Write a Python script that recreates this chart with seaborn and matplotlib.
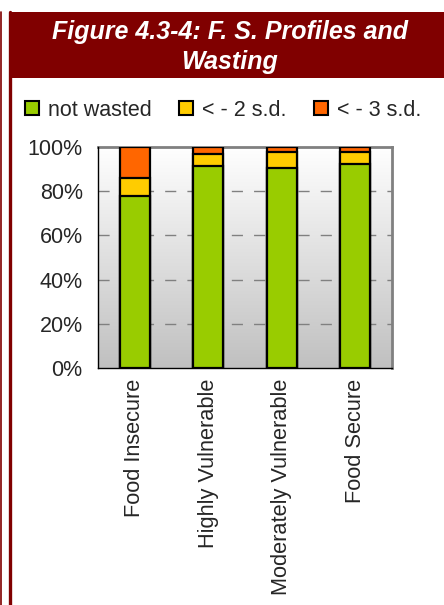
import numpy as np
import pandas as pd
import matplotlib
matplotlib.use("Agg")
import matplotlib.pyplot as plt
import seaborn as sns
from matplotlib.patches import Patch, Rectangle
from matplotlib.lines import Line2D
from matplotlib.colors import LinearSegmentedColormap

categories = ["Food Insecure", "Highly Vulnerable", "Moderately Vulnerable", "Food Secure"]
not_wasted = [77.8, 91.5, 90.5, 92.4]
below_2sd = [8.2, 5.3, 7.2, 5.2]
below_3sd = [14.0, 3.2, 2.3, 2.4]
series_names = ["not wasted", "< - 2 s.d.", "< - 3 s.d."]
series_colors = ["#99CC00", "#FFCC00", "#FF6600"]
ytick_values = [0, 20, 40, 60, 80, 100]
ytick_labels = ["0%", "20%", "40%", "60%", "80%", "100%"]
title_text = "Figure 4.3-4: F. S. Profiles and\nWasting"

sns.set_style("white")
plt.rcParams["font.family"] = ["Liberation Sans", "DejaVu Sans"]

W, H = 444, 605
fig = plt.figure(figsize=(W / 100, H / 100), dpi=100)
fig.patch.set_facecolor("white")

# frame decorations (figure-level)
red = "#800000"
fig.add_artist(Rectangle((9 / W, 1 - 78 / H), (W - 9) / W, 66 / H,
                         transform=fig.transFigure, facecolor=red, edgecolor="none"))
fig.add_artist(Line2D([0.8 / W, 0.8 / W], [0, 1 - 12 / H], transform=fig.transFigure,
                      color=red, lw=1.2))
fig.add_artist(Line2D([10 / W, 10 / W], [0, 1 - 12 / H], transform=fig.transFigure,
                      color=red, lw=2.4))
fig.text(230 / W, 1 - 47 / H, title_text, ha="center", va="center",
         color="white", fontsize=18, fontweight="bold", fontstyle="italic",
         linespacing=1.32)

ax = fig.add_axes([98 / W, 1 - 368 / H, (392 - 98) / W, (368 - 147) / H])

# gradient background
grad = np.linspace(0, 1, 256).reshape(-1, 1)
cmap = LinearSegmentedColormap.from_list("bg", ["#C0C0C0", "#FFFFFF"])
ax.imshow(grad, extent=[0, 1, 0, 1], transform=ax.transAxes, aspect="auto",
          cmap=cmap, origin="lower", zorder=0, interpolation="bicubic")

df = pd.DataFrame({
    "category": categories,
    "c1": np.array(not_wasted),
    "c2": np.array(not_wasted) + np.array(below_2sd),
    "c3": np.array(not_wasted) + np.array(below_2sd) + np.array(below_3sd),
})

for col, color in zip(["c3", "c2", "c1"], series_colors[::-1]):
    sns.barplot(data=df, x="category", y=col, color=color, width=0.41,
                edgecolor="black", linewidth=1.6, saturation=1, ax=ax, zorder=3)

ax.set_xlim(-0.5, len(categories) - 0.5)
ax.set_ylim(0, 100)
ax.set_yticks(ytick_values)
ax.set_yticklabels(ytick_labels, fontsize=15.5)
ax.set_xticks(range(len(categories)))
ax.set_xticklabels(categories, rotation=90, fontsize=15.7, va="top", ha="center")
ax.set_xticks(np.arange(-0.5, len(categories)), minor=True)
ax.tick_params(axis="x", which="major", length=0, pad=8)
ax.tick_params(axis="x", which="minor", length=5, width=1, color="black", direction="out")
ax.tick_params(axis="y", length=5, width=1, color="black", direction="out", pad=6)
ax.set_xlabel("")
ax.set_ylabel("")

for y in ytick_values[1:-1]:
    ax.axhline(y, color="#808080", lw=1.0, ls=(0, (8, 8)), zorder=1)

for s in ["top", "right"]:
    ax.spines[s].set_color("#808080")
    ax.spines[s].set_linewidth(2)
for s in ["left", "bottom"]:
    ax.spines[s].set_color("black")
    ax.spines[s].set_linewidth(1)
    ax.spines[s].set_zorder(5)

handles = [Patch(facecolor=c, edgecolor="black", linewidth=1.5) for c in series_colors]
fig.legend(handles, series_names, loc="center left", bbox_to_anchor=(25 / W, 1 - 110 / H),
           ncol=3, frameon=False, fontsize=15.5, handlelength=0.65, handleheight=0.65,
           handletextpad=0.4, columnspacing=1.3, borderaxespad=0, borderpad=0)

fig.savefig("out.png", dpi=100)
